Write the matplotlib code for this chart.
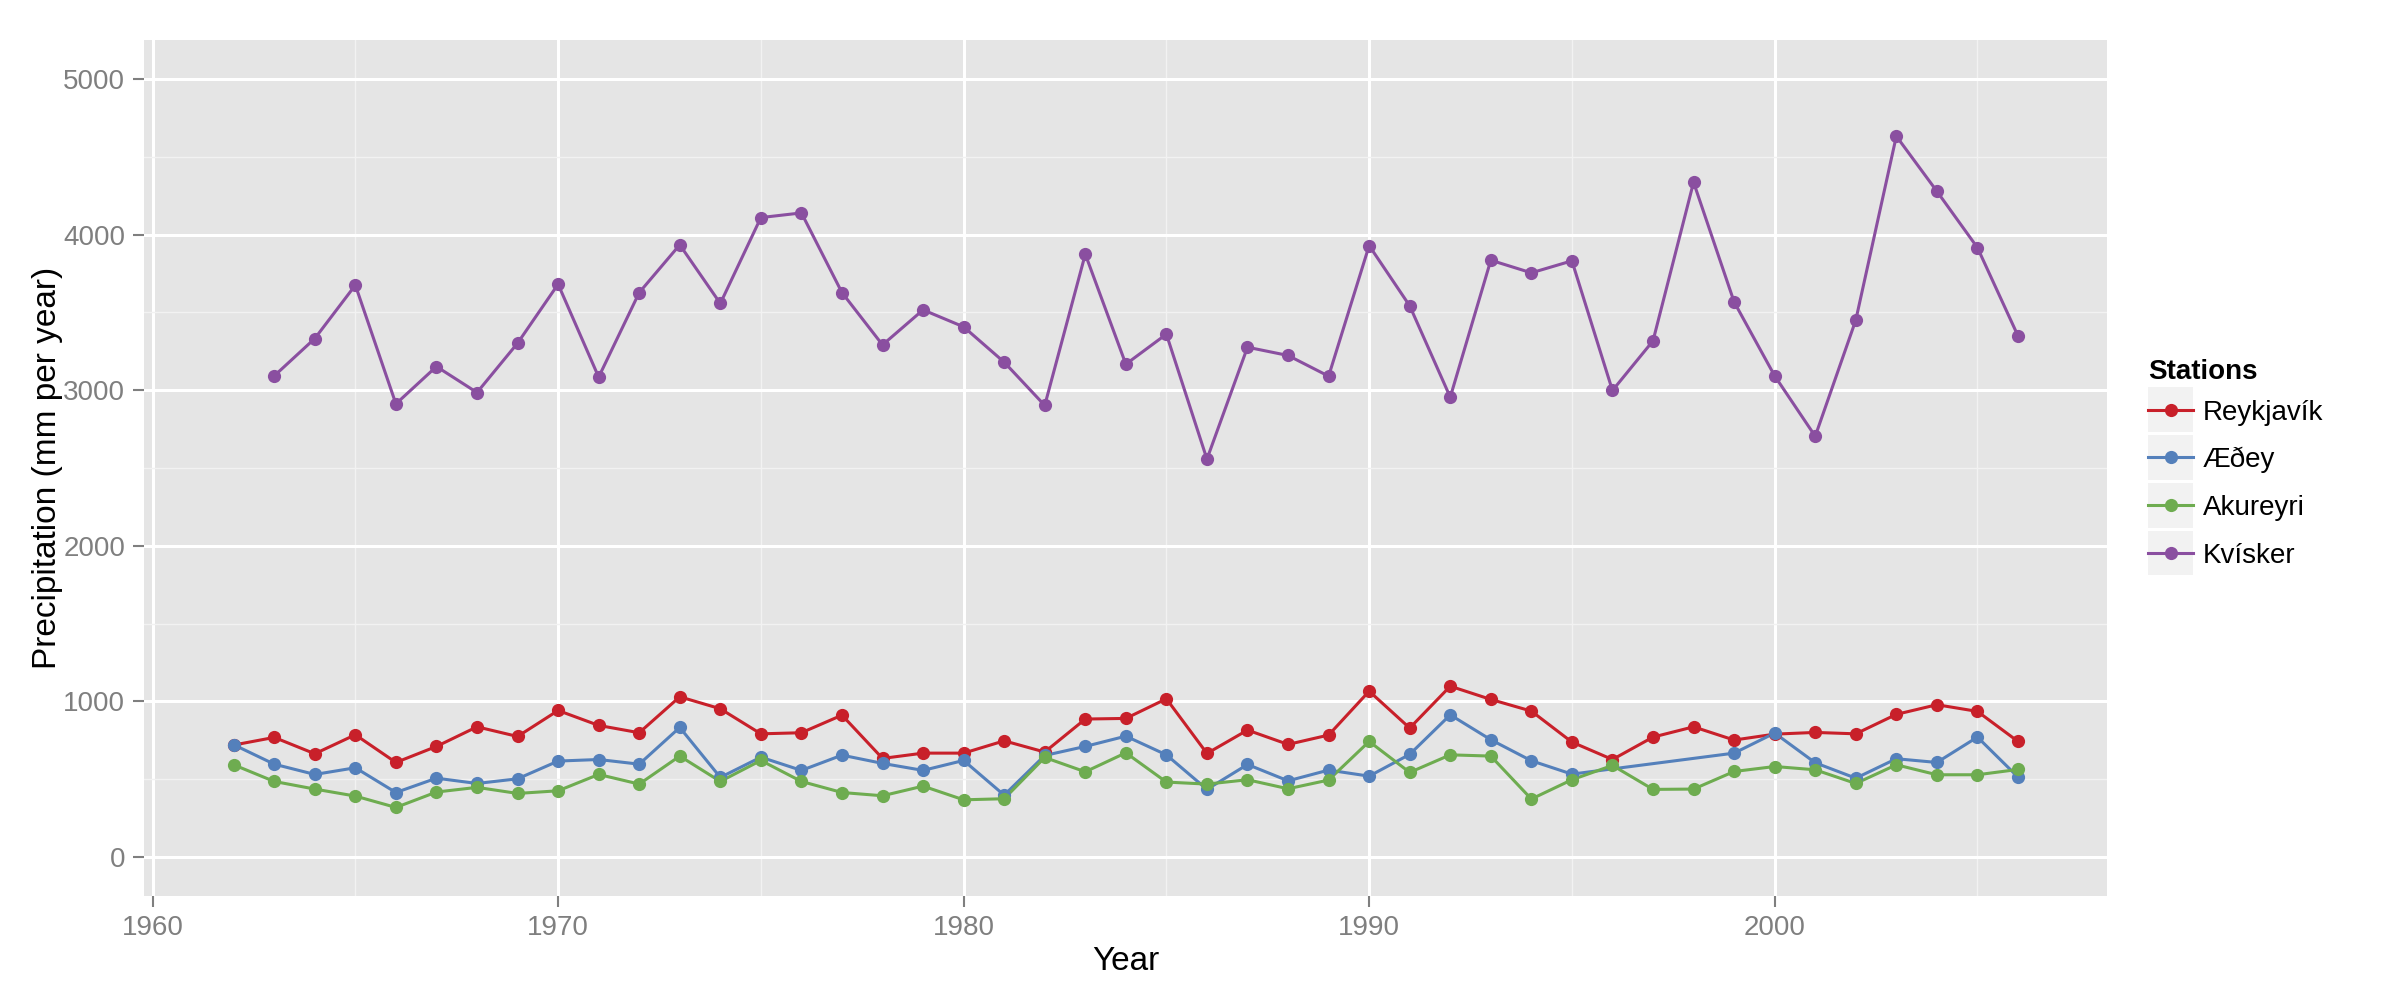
import numpy as np
import matplotlib
matplotlib.use("Agg")
import matplotlib.pyplot as plt
from matplotlib.legend_handler import HandlerLine2D
from matplotlib.patches import Rectangle

plt.rcParams['font.family'] = ['Liberation Sans', 'DejaVu Sans']

# data (mm per year)
years = np.arange(1962, 2007)

reykjavik = [720, 769, 664, 786, 608, 711, 837, 775, 942, 846,
             799, 1030, 953, 792, 799, 912, 634, 668, 668, 747,
             675, 887, 891, 1017, 666, 816, 724, 784, 1066, 829,
             1098, 1013, 938, 739, 627, 771, 837, 752, 790, 801,
             792, 917, 979, 936, 743]
aedey = [722, 597, 531, 574, 415, 507, 473, 503, 617, 627,
         597, 833, 512, 642, 557, 655, 602, 557, 621, 398,
         653, 711, 777, 657, 435, 595, 490, 559, 520, 660,
         914, 754, 619, 533, np.nan, np.nan, np.nan, 668, 797, 606,
         507, 632, 608, 771, 514]
akureyri = [593, 486, 437, 392, 319, 418, 448, 409, 426, 531,
            469, 649, 486, 621, 486, 415, 394, 456, 368, 375,
            640, 548, 670, 482, 469, 497, 439, 495, 743, 544,
            657, 649, 373, 497, 589, 435, 437, 550, 582, 561,
            473, 593, 529, 529, 563]
kvisker = [np.nan, 3092, 3332, 3675, 2912, 3152, 2985, 3302, 3681, 3084,
           3627, 3934, 3557, 4109, 4139, 3627, 3291, 3516, 3407, 3180,
           2902, 3874, 3167, 3360, 2557, 3276, 3223, 3090, 3929, 3542,
           2955, 3835, 3754, 3831, 2998, 3317, 4336, 3567, 3092, 2704,
           3450, 4632, 4278, 3916, 3349]

stations = ['Reykjavík', 'Æðey', 'Akureyri', 'Kvísker']
series = [reykjavik, aedey, akureyri, kvisker]
colors = ['#C8202A', '#5480BB', '#6EAC50', '#8A4FA0']

grey50 = '#7F7F7F'

fig = plt.figure(figsize=(24, 10), dpi=100)
ax = fig.add_axes([0.0602, 0.104, 0.8178, 0.856])
ax.set_facecolor('#E5E5E5')
for s in ax.spines.values():
    s.set_visible(False)

# ggplot draws all lines, then all points
handles = []
for name, vals, c in zip(stations, series, colors):
    v = np.array(vals, dtype=float)
    ok = ~np.isnan(v)
    ax.plot(years[ok], v[ok], color=c, lw=2.2, zorder=3)
for name, vals, c in zip(stations, series, colors):
    v = np.array(vals, dtype=float)
    ok = ~np.isnan(v)
    ax.plot(years[ok], v[ok], 'o', color=c, ms=9.5, mec='none', zorder=4)
    handles.append(plt.Line2D([], [], color=c, lw=2.2, marker='o', ms=9.5, mec='none'))

ax.set_xlim(1959.8, 2008.2)
ax.set_ylim(-250, 5250)
ax.set_xticks([1960, 1970, 1980, 1990, 2000])
ax.set_yticks([0, 1000, 2000, 3000, 4000, 5000])
ax.set_xticks([1965, 1975, 1985, 1995, 2005], minor=True)
ax.set_yticks([500, 1500, 2500, 3500, 4500], minor=True)
ax.grid(which='major', color='white', lw=2.2, zorder=1)
ax.grid(which='minor', color='#F2F2F2', lw=1.0, zorder=0.9)
ax.set_axisbelow(True)
ax.tick_params(which='major', length=8, width=1.5, color=grey50, labelcolor=grey50,
               labelsize=20, pad=6)
ax.tick_params(which='minor', length=0)

ax.set_xlabel('Year', fontsize=24, labelpad=3)
ax.set_ylabel('Precipitation (mm per year)', fontsize=24, labelpad=0)


class KeyHandler(HandlerLine2D):
    # grey box behind each key, key line level with the label text, like ggplot
    def create_artists(self, legend, orig_handle, xdescent, ydescent,
                       width, height, fontsize, trans):
        arts = list(super().create_artists(legend, orig_handle, xdescent, ydescent,
                                           width, height, fontsize, trans))
        dy = 0.36 * fontsize - (height - ydescent) / 2
        for a in arts:
            a.set_ydata(np.asarray(a.get_ydata()) + dy)
        box = Rectangle((-xdescent, -ydescent / 2 + dy), width, height,
                        facecolor='#F2F2F2', edgecolor='none', transform=trans)
        return [box] + arts


leg = ax.legend(handles, stations, loc='center left', bbox_to_anchor=(1.021, 0.5),
                frameon=False, fontsize=20, title='Stations',
                title_fontproperties={'weight': 'bold', 'size': 20},
                handlelength=1.6, handleheight=2.1, labelspacing=0.11,
                handletextpad=0.35, borderpad=0, borderaxespad=0,
                alignment='left',
                handler_map={plt.Line2D: KeyHandler(numpoints=1)})

fig.savefig('out.png', dpi=100)
